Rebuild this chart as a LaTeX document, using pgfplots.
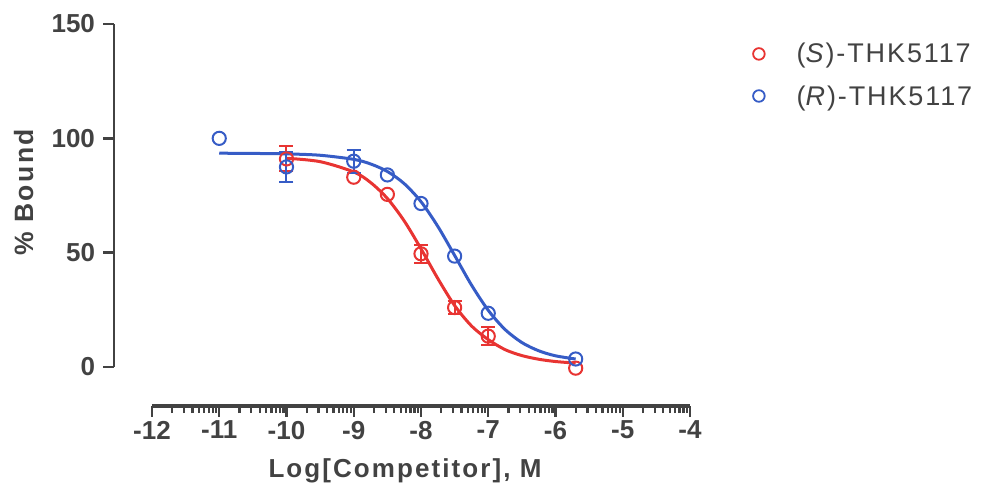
\documentclass[border=0pt]{standalone}
\usepackage{fontspec}
\setmainfont{Liberation Sans}
\usepackage{pgfplots}
\pgfplotsset{compat=1.18}
\definecolor{myred}{RGB}{232,52,50}
\definecolor{myblue}{RGB}{54,92,198}
\definecolor{axgray}{RGB}{66,66,66}
\begin{document}
\begin{tikzpicture}
\begin{axis}[
  at={(114pt,90pt)}, anchor=south west,
  scale only axis, width=576pt, height=382pt,
  xmin=-12.565, xmax=-4, ymin=-17.05, ymax=150,
  axis lines=left, axis line style={draw=none},
  clip=false,
  xtick={-12,-11,-10,-9,-8,-7,-6,-5,-4},
  minor xtick={-11.699,-11.523,-11.398,-11.301,-11.222,-11.155,-11.097,-11.046,
    -10.699,-10.523,-10.398,-10.301,-10.222,-10.155,-10.097,-10.046,
    -9.699,-9.523,-9.398,-9.301,-9.222,-9.155,-9.097,-9.046,
    -8.699,-8.523,-8.398,-8.301,-8.222,-8.155,-8.097,-8.046,
    -7.699,-7.523,-7.398,-7.301,-7.222,-7.155,-7.097,-7.046,
    -6.699,-6.523,-6.398,-6.301,-6.222,-6.155,-6.097,-6.046,
    -5.699,-5.523,-5.398,-5.301,-5.222,-5.155,-5.097,-5.046,
    -4.699,-4.523,-4.398,-4.301,-4.222,-4.155,-4.097,-4.046},
  xticklabels={-12,-11,-10,-9,-8,-7,-6,-5,-4},
  ytick={0,50,100,150},
  yticklabels={0,50,100,150},
  tick align=outside,
  major tick length=10.5pt, minor tick length=7pt,
  x tick style={line width=2.2pt, color=axgray},
  y tick style={line width=2.4pt, color=axgray},
  tick label style={font=\bfseries\fontsize{26}{26}\selectfont, color=axgray},
  xticklabel style={yshift=-1pt},
  yticklabel style={xshift=-5pt},
  legend style={at={(axis description cs:1.104,0.955)}, anchor=north west, draw=none, fill=none,
    font=\fontsize{27}{28}\selectfont\addfontfeatures{LetterSpace=7}, text=axgray,
    column sep=32pt, row sep=21pt, nodes={inner sep=0pt}},
  legend cell align=left,
  legend image code/.code={\draw[#1] plot coordinates {(0pt,0pt)};},
]
% axis lines
\draw[axgray, line width=2.6pt] (axis cs:-12.565,0) -- (axis cs:-12.565,150);
\draw[axgray, line width=3.6pt] (axis cs:-12,-17.05) -- (axis cs:-4,-17.05);

\addlegendimage{only marks, mark=o, myred, mark size=5.8pt, line width=1.8pt}
\addlegendentry{(\textit{S})-THK5117}
\addlegendimage{only marks, mark=o, myblue, mark size=5.8pt, line width=1.8pt}
\addlegendentry{(\textit{R})-THK5117}

% fitted curves
\addplot[myred, line width=3pt, smooth, no marks, forget plot] coordinates {
 (-10,91.3) (-9.5,89.8) (-9,85.3) (-8.75,80.7) (-8.5,73.7) (-8.25,63.9) (-8,51.7)
 (-7.75,38.7) (-7.5,26.9) (-7.25,18) (-7,12) (-6.75,7.6) (-6.5,5) (-6.25,3.4) (-6,2.4) (-5.7,1.7)};
\addplot[myblue, line width=3pt, smooth, no marks, forget plot] coordinates {
 (-11,93.5) (-10.5,93.4) (-10,93.2) (-9.5,92.6) (-9,90.8) (-8.75,88.8) (-8.5,85.5) (-8.25,80.2)
 (-8,72.3) (-7.75,61.5) (-7.5,48.8) (-7.25,35.9) (-7,24.8) (-6.75,16.4) (-6.5,10.7) (-6.25,7.1) (-6,4.9) (-5.7,3.5)};

% error bars (only where visible outside the symbols)
\addplot[draw=none, mark=none, forget plot,
  error bars/.cd, y dir=both, y explicit,
  error bar style={line width=2pt, myred},
  error mark options={rotate=90, mark size=7pt, line width=2pt, myred}]
  table[x=x, y=y, y error=e] {
x y e
-10 91 5.5
-8 49.5 4
-7.5 26 3
-7 13.5 4
};
\addplot[draw=none, mark=none, forget plot,
  error bars/.cd, y dir=both, y explicit,
  error bar style={line width=2pt, myblue},
  error mark options={rotate=90, mark size=7pt, line width=2pt, myblue}]
  table[x=x, y=y, y error=e] {
x y e
-10 87.5 6.5
-9 90 5
};

% data points
\addplot[only marks, mark=o, myred, mark size=6.6pt, line width=2pt, forget plot] table {
x y
-10 91
-9 83
-8.5 75.5
-8 49.5
-7.5 26
-7 13.5
-5.7 -0.5
};
\addplot[only marks, mark=o, myblue, mark size=6.6pt, line width=2pt, forget plot] table {
x y
-11 100
-10 87.5
-9 90
-8.5 84
-8 71.5
-7.5 48.5
-7 23.5
-5.7 3.5
};
\end{axis}
\node[anchor=base, text=axgray, font=\bfseries\fontsize{26}{26}\selectfont\addfontfeatures{LetterSpace=8}] at (405pt,19pt) {Log[Competitor], M};
\node[anchor=base, rotate=90, text=axgray, font=\bfseries\fontsize{26.5}{26}\selectfont\addfontfeatures{LetterSpace=9}] at (33pt,303.5pt) {\% Bound};
\pgfresetboundingbox
\path[use as bounding box] (0,0) rectangle (985pt,496pt);
\end{tikzpicture}
\end{document}
